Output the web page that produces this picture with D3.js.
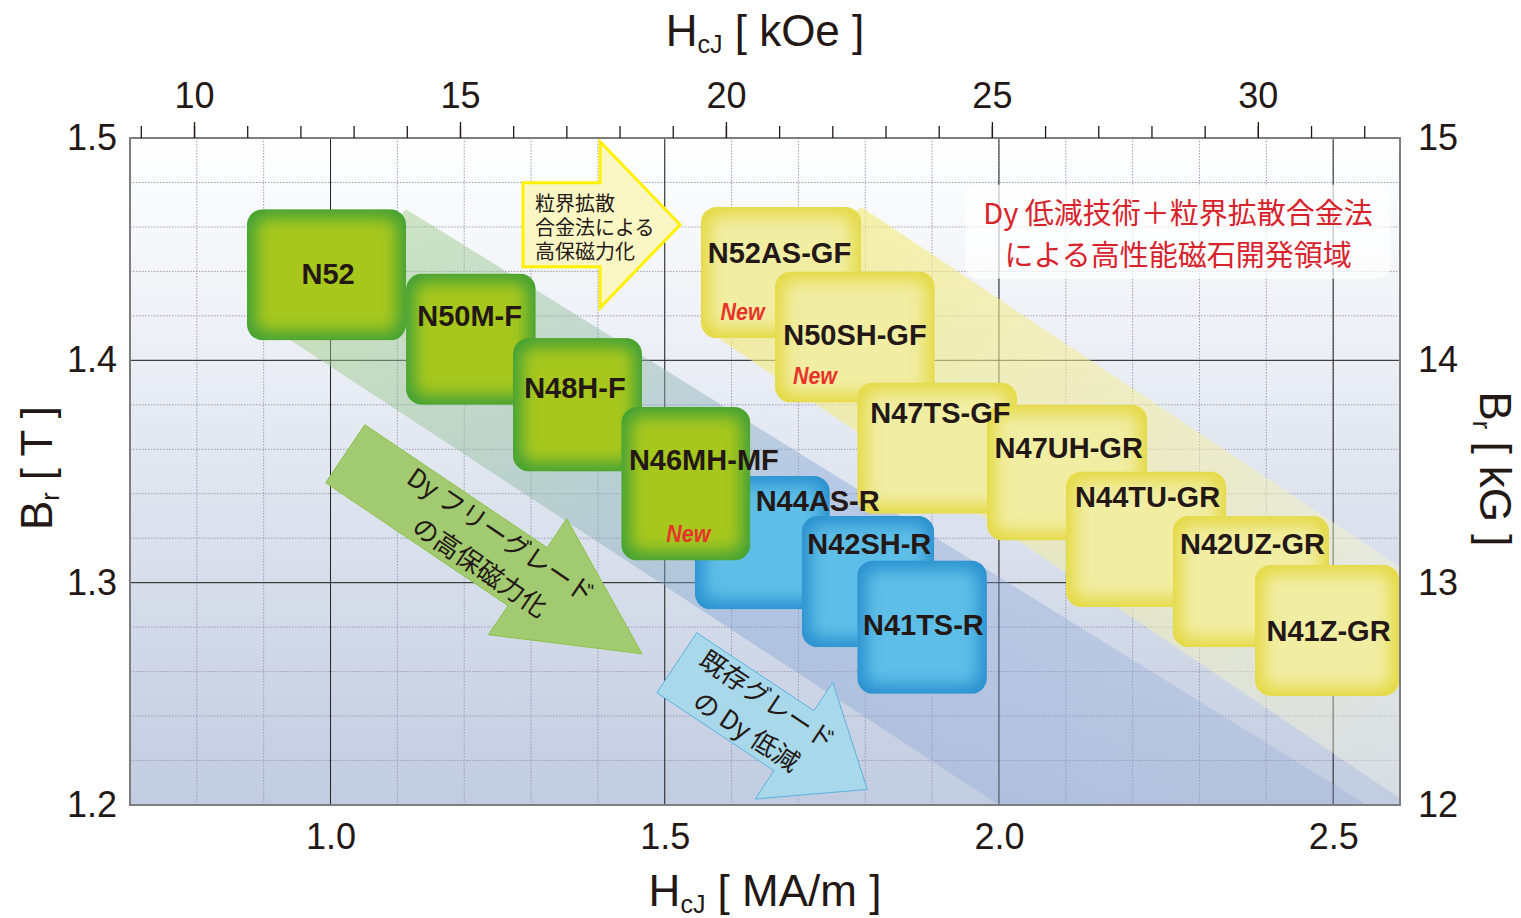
<!DOCTYPE html>
<html>
<head>
<meta charset="utf-8">
<script src="https://cdn.jsdelivr.net/npm/d3@7"></script>
<style>
body { margin: 0; background: #fff; }
text { font-family: "Liberation Sans", Arial, sans-serif; fill: #231815; }
.jp { font-family: "Noto Sans CJK JP", sans-serif; }
</style>
</head>
<body>
<div id="chart"></div>
<script>
// magnet grades: HcJ range [MA/m], Br range [T]
var grades  = ["N52", "N50M-F", "N48H-F", "N46MH-MF", "N44AS-R", "N42SH-R", "N41TS-R",
               "N52AS-GF", "N50SH-GF", "N47TS-GF", "N47UH-GR", "N44TU-GR", "N42UZ-GR", "N41Z-GR"];
var family  = ["free", "free", "free", "free", "base", "base", "base",
               "gbd", "gbd", "gbd", "gbd", "gbd", "gbd", "gbd"];
var hcjMin  = [0.875, 1.113, 1.273, 1.435, 1.545, 1.705, 1.788, 1.554, 1.665, 1.788, 1.982, 2.100, 2.260, 2.383];
var hcjMax  = [1.113, 1.307, 1.466, 1.628, 1.747, 1.903, 1.982, 1.794, 1.904, 2.027, 2.222, 2.340, 2.494, 2.599];
var brMin   = [1.409, 1.380, 1.350, 1.310, 1.288, 1.271, 1.250, 1.410, 1.381, 1.331, 1.319, 1.289, 1.271, 1.249];
var brMax   = [1.468, 1.439, 1.410, 1.379, 1.348, 1.330, 1.310, 1.469, 1.440, 1.390, 1.380, 1.350, 1.330, 1.308];
var newGrades = ["N52AS-GF", "N50SH-GF", "N46MH-MF"];

// axis ticks
var hcjTicks = [1.0, 1.5, 2.0, 2.5];
var brTicks  = [1.2, 1.3, 1.4, 1.5];
var kOeTicks = [10, 15, 20, 25, 30];
var kGTicks  = [12, 13, 14, 15];

// annotation arrows (data coordinates)
var arrowFrom = [[1.022, 1.358], [1.518, 1.264], [1.288, 1.461]];
var arrowTo   = [[1.466, 1.268], [1.803, 1.207], [1.523, 1.461]];
var arrowText = [["Dy フリーグレード", "の高保磁力化"], ["既存グレード", "の Dy 低減"], ["粒界拡散", "合金法による", "高保磁力化"]];
var noteText  = ["Dy 低減技術＋粒界拡散合金法", "による高性能磁石開発領域"];

// label placement inside each box (fraction of width / height)
var labelFx = [0.51, 0.49, 0.48, 0.64, 0.91, 0.51, 0.51, 0.49, 0.5, 0.52, 0.51, 0.51, 0.51, 0.51];
var labelFy = [0.57, 0.40, 0.45, 0.41, 0.26, 0.29, 0.56, 0.43, 0.56, 0.31, 0.39, 0.26, 0.29, 0.58];
var newFx = {"N52AS-GF": 0.26, "N50SH-GF": 0.25, "N46MH-MF": 0.52};
var newFy = {"N52AS-GF": 0.86, "N50SH-GF": 0.86, "N46MH-MF": 0.88};

var palette = {
	free: { edge: "#43a136", mid: "#a7c71f" },
	base: { edge: "#2a91cf", mid: "#5dbee7" },
	gbd:  { edge: "#e4d944", mid: "#f1eda2" }
};

var width = 1521, height = 918;
var pL = 130, pR = 1400, pT = 138, pB = 805;
var OE = 0.0795775; // 1 kOe in MA/m

var svg = d3.select("#chart").append("svg")
	.attr("width", width)
	.attr("height", height);

var x = d3.scaleLinear().domain([0.7, 2.6]).range([pL, pR]);
var y = d3.scaleLinear().domain([1.2, 1.5]).range([pB, pT]);
var xk = d3.scaleLinear().domain([0.7 / OE, 2.6 / OE]).range([pL, pR]);
var yk = d3.scaleLinear().domain([12, 15]).range([pB, pT]);

var defs = svg.append("defs");
var bg = defs.append("linearGradient").attr("id", "bg")
	.attr("x1", 0).attr("y1", 0).attr("x2", 0).attr("y2", 1);
bg.append("stop").attr("offset", 0).attr("stop-color", "#ffffff");
bg.append("stop").attr("offset", 1).attr("stop-color", "#c2cce0");

defs.append("filter").attr("id", "soft")
	.attr("x", "-20%").attr("y", "-20%").attr("width", "140%").attr("height", "140%")
	.append("feGaussianBlur").attr("stdDeviation", 8);

// background
svg.append("rect")
	.attr("x", pL).attr("y", pT)
	.attr("width", pR - pL).attr("height", pB - pT)
	.attr("fill", "url(#bg)");

// grid
var grid = svg.append("g");
grid.selectAll(".vminor")
	.data(d3.range(8, 26).map(function(d) { return d / 10; }))
	.enter().append("line")
	.attr("x1", function(d) { return x(d); }).attr("x2", function(d) { return x(d); })
	.attr("y1", pT).attr("y2", pB)
	.attr("stroke", "#9c9cb2").attr("stroke-width", 1).attr("stroke-dasharray", "1.5,1.5");
grid.selectAll(".hminor")
	.data(d3.range(61, 75).map(function(d) { return d / 50; }))
	.enter().append("line")
	.attr("x1", pL).attr("x2", pR)
	.attr("y1", function(d) { return y(d); }).attr("y2", function(d) { return y(d); })
	.attr("stroke", "#9c9cb2").attr("stroke-width", 1).attr("stroke-dasharray", "1.5,1.5");
grid.selectAll(".vmajor")
	.data(hcjTicks)
	.enter().append("line")
	.attr("x1", function(d) { return x(d); }).attr("x2", function(d) { return x(d); })
	.attr("y1", pT).attr("y2", pB)
	.attr("stroke", "#222").attr("stroke-width", 1);
grid.selectAll(".hmajor")
	.data([1.3, 1.4])
	.enter().append("line")
	.attr("x1", pL).attr("x2", pR)
	.attr("y1", function(d) { return y(d); }).attr("y2", function(d) { return y(d); })
	.attr("stroke", "#222").attr("stroke-width", 1);

// diagonal bands
var bandG = defs.append("linearGradient").attr("id", "bandG")
	.attr("gradientUnits", "userSpaceOnUse")
	.attr("x1", x(1.0)).attr("y1", y(1.46)).attr("x2", x(2.3)).attr("y2", y(1.2));
bandG.append("stop").attr("offset", 0).attr("stop-color", "#9ccc78").attr("stop-opacity", 0.45);
bandG.append("stop").attr("offset", 0.32).attr("stop-color", "#8cb7a8").attr("stop-opacity", 0.45);
bandG.append("stop").attr("offset", 0.52).attr("stop-color", "#7b9fd4").attr("stop-opacity", 0.4);
bandG.append("stop").attr("offset", 1).attr("stop-color", "#8ea6d6").attr("stop-opacity", 0.28);

var bandY = defs.append("linearGradient").attr("id", "bandY")
	.attr("gradientUnits", "userSpaceOnUse")
	.attr("x1", x(1.7)).attr("y1", y(1.45)).attr("x2", x(2.6)).attr("y2", y(1.22));
bandY.append("stop").attr("offset", 0).attr("stop-color", "#f2ea7a").attr("stop-opacity", 0.65);
bandY.append("stop").attr("offset", 0.6).attr("stop-color", "#f4f0a8").attr("stop-opacity", 0.5);
bandY.append("stop").attr("offset", 1).attr("stop-color", "#fbfbe6").attr("stop-opacity", 0.35);

var bands = [
	{ fill: "url(#bandG)", pts: [[1.113, 1.468], [0.94, 1.409], [2.0, 1.2], [2.55, 1.2]] },
	{ fill: "url(#bandY)", pts: [[1.794, 1.469], [1.58, 1.41], [2.6, 1.203], [2.6, 1.307]] }
];
var line = d3.line().x(function(d) { return x(d[0]); }).y(function(d) { return y(d[1]); });
svg.selectAll(".band")
	.data(bands)
	.enter().append("path")
	.attr("d", function(d) { return line(d.pts) + "Z"; })
	.attr("fill", function(d) { return d.fill; });

// arrows
var arrowStyle = [
	{ body: 35, head: 70, headLen: 138, fill: "#a2ca70", stroke: "#8cc04a", sw: 1, s: 175, fs: 26 },
	{ body: 36, head: 70, headLen: 88, fill: "#a8d8ea", stroke: "#5ab2e0", sw: 1, s: 96, fs: 26 },
	{ body: 42, head: 83, headLen: 80, fill: "#faf7c4", stroke: "#fff100", sw: 3, s: 0, fs: 20 }
];

function arrowPath(t, p, st) {
	var dx = p[0] - t[0], dy = p[1] - t[1], len = Math.hypot(dx, dy);
	var ux = dx / len, uy = dy / len, nx = -uy, ny = ux;
	var bx = p[0] - ux * st.headLen, by = p[1] - uy * st.headLen;
	var pts = [
		[t[0] + nx * st.body, t[1] + ny * st.body],
		[bx + nx * st.body, by + ny * st.body],
		[bx + nx * st.head, by + ny * st.head],
		p,
		[bx - nx * st.head, by - ny * st.head],
		[bx - nx * st.body, by - ny * st.body],
		[t[0] - nx * st.body, t[1] - ny * st.body]
	];
	return "M" + pts.map(function(q) { return q[0] + "," + q[1]; }).join("L") + "Z";
}

arrowFrom.forEach(function(f, i) {
	var st = arrowStyle[i];
	var t = [x(f[0]), y(f[1])], p = [x(arrowTo[i][0]), y(arrowTo[i][1])];
	svg.append("path")
		.attr("d", arrowPath(t, p, st))
		.attr("fill", st.fill)
		.attr("stroke", st.stroke)
		.attr("stroke-width", st.sw)
		.attr("stroke-linejoin", "miter");
	var ang = Math.atan2(p[1] - t[1], p[0] - t[0]);
	if (i < 2) {
		var ux = Math.cos(ang), uy = Math.sin(ang);
		arrowText[i].forEach(function(txt, j) {
			var v = j == 0 ? -19 : 19;
			var cx = t[0] + ux * st.s - uy * v, cy = t[1] + uy * st.s + ux * v;
			svg.append("text").attr("class", "jp")
				.attr("transform", "translate(" + cx + "," + cy + ") rotate(" + (ang * 180 / Math.PI) + ")")
				.attr("text-anchor", "middle")
				.attr("dy", "0.35em")
				.attr("font-size", st.fs)
				.text(txt);
		});
	} else {
		// one text block, three lines
		var block = svg.append("text").attr("class", "jp")
			.attr("x", t[0] + 12)
			.attr("y", t[1] - 14)
			.attr("font-size", st.fs);
		arrowText[i].forEach(function(txt, j) {
			block.append("tspan")
				.attr("x", t[0] + 12)
				.attr("dy", j == 0 ? 0 : 24)
				.text(txt);
		});
	}
});

// note box
svg.append("rect")
	.attr("x", x(1.949)).attr("y", y(1.479))
	.attr("width", x(2.586) - x(1.949)).attr("height", y(1.4367) - y(1.479))
	.attr("rx", 14)
	.attr("fill", "#ffffff").attr("fill-opacity", 0.7);
noteText.forEach(function(txt, j) {
	svg.append("text").attr("class", "jp")
		.attr("x", x(2.268))
		.attr("y", y(1.4578) - 8 + j * 42)
		.attr("text-anchor", "middle")
		.attr("font-size", 29)
		.style("fill", "#d7232c")
		.text(txt);
});

// grade boxes
var order = d3.range(grades.length).sort(function(a, b) {
	var rank = { base: 0, free: 1, gbd: 2 };
	return rank[family[a]] - rank[family[b]] || a - b;
});
var boxes = svg.append("g");
order.forEach(function(i) {
	var bx = x(hcjMin[i]), bw = x(hcjMax[i]) - bx;
	var by = y(brMax[i]), bh = y(brMin[i]) - by;
	defs.append("clipPath").attr("id", "clip" + i)
		.append("rect").attr("x", bx).attr("y", by).attr("width", bw).attr("height", bh).attr("rx", 16);
	var g = boxes.append("g").attr("clip-path", "url(#clip" + i + ")");
	g.append("rect").attr("x", bx).attr("y", by).attr("width", bw).attr("height", bh)
		.attr("fill", palette[family[i]].edge);
	g.append("rect").attr("x", bx + 9).attr("y", by + 9).attr("width", bw - 18).attr("height", bh - 18)
		.attr("rx", 10)
		.attr("fill", palette[family[i]].mid)
		.attr("filter", "url(#soft)");
});

grades.forEach(function(name, i) {
	var bx = x(hcjMin[i]), bw = x(hcjMax[i]) - bx;
	var by = y(brMax[i]), bh = y(brMin[i]) - by;
	svg.append("text")
		.attr("x", bx + bw * labelFx[i])
		.attr("y", by + bh * labelFy[i])
		.attr("text-anchor", "middle")
		.attr("font-size", 29)
		.attr("font-weight", "bold")
		.text(name);
	if (newGrades.indexOf(name) >= 0) {
		svg.append("text")
			.attr("x", bx + bw * newFx[name])
			.attr("y", by + bh * newFy[name])
			.attr("text-anchor", "middle")
			.attr("font-size", 24)
			.attr("font-weight", "bold")
			.attr("font-style", "italic")
			.attr("textLength", 44)
			.attr("lengthAdjust", "spacingAndGlyphs")
			.style("fill", "#e8332a")
			.text("New");
	}
});

// frame
svg.append("rect")
	.attr("x", pL).attr("y", pT)
	.attr("width", pR - pL).attr("height", pB - pT)
	.attr("fill", "none").attr("stroke", "#7d7d7d").attr("stroke-width", 2);

// axes
function styleAxis(g) {
	g.select(".domain").remove();
	g.selectAll(".tick line").attr("stroke", "#231815").attr("stroke-width", 1.3);
	g.selectAll(".tick text").attr("font-size", 36).attr("fill", "#231815")
		.attr("font-family", "'Liberation Sans', Arial, sans-serif");
}

svg.append("g")
	.attr("transform", "translate(0," + pT + ")")
	.call(d3.axisTop(xk).tickValues(d3.range(9, 33)).tickSize(12).tickFormat(""))
	.call(styleAxis);
svg.append("g")
	.attr("transform", "translate(0," + pT + ")")
	.call(d3.axisTop(xk).tickValues(kOeTicks).tickSize(16).tickPadding(14).tickFormat(d3.format("d")))
	.call(styleAxis);
svg.append("g")
	.attr("transform", "translate(0," + pB + ")")
	.call(d3.axisBottom(x).tickValues(hcjTicks).tickSize(0).tickPadding(18).tickFormat(d3.format(".1f")))
	.call(styleAxis);
svg.append("g")
	.attr("transform", "translate(" + pL + ",0)")
	.call(d3.axisLeft(y).tickValues(brTicks).tickSize(0).tickPadding(13).tickFormat(d3.format(".1f")))
	.call(styleAxis);
svg.append("g")
	.attr("transform", "translate(" + pR + ",0)")
	.call(d3.axisRight(yk).tickValues(kGTicks).tickSize(0).tickPadding(18).tickFormat(d3.format("d")))
	.call(styleAxis);

// axis titles
function title(g, sym, sub, unit) {
	g.attr("text-anchor", "middle").attr("font-size", 44);
	g.append("tspan").text(sym);
	g.append("tspan").attr("font-size", 25).attr("dy", 7).text(sub);
	g.append("tspan").attr("dy", -7).text(" [ " + unit + " ]");
}
title(svg.append("text").attr("x", 765).attr("y", 46), "H", "cJ", "kOe");
title(svg.append("text").attr("x", 765).attr("y", 906), "H", "cJ", "MA/m");
title(svg.append("text").attr("transform", "translate(52,468) rotate(-90)"), "B", "r", "T");
title(svg.append("text").attr("transform", "translate(1480,469) rotate(90)"), "B", "r", "kG");
</script>
</body>
</html>
